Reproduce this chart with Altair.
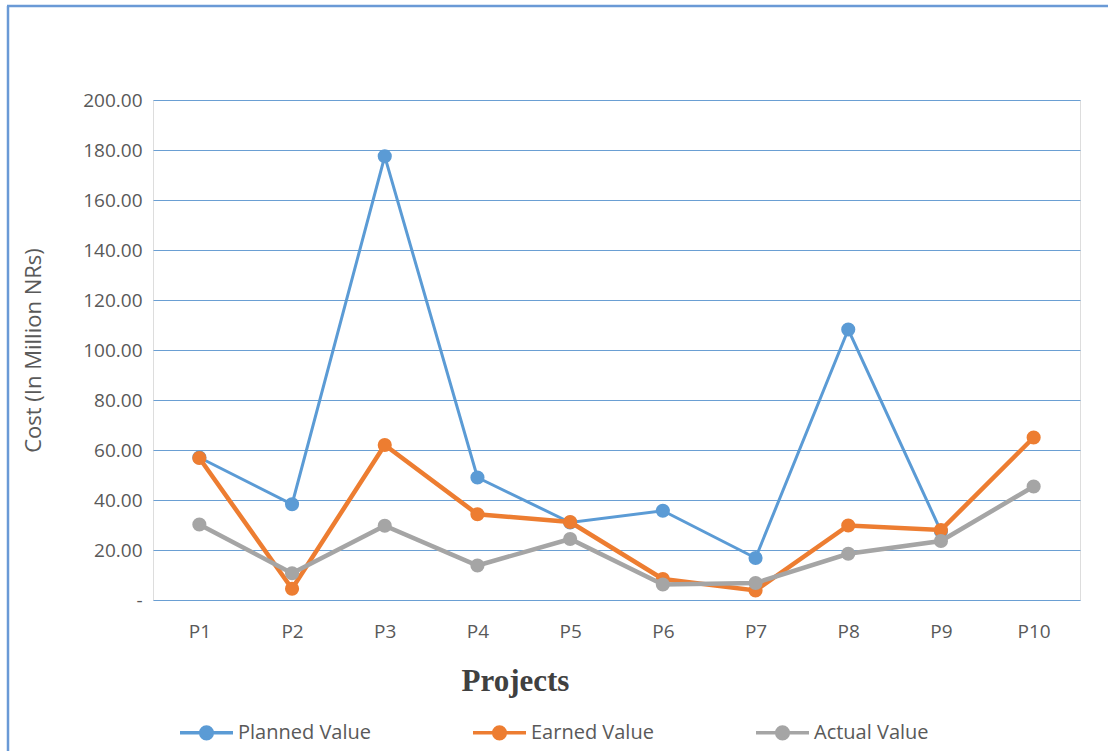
import altair as alt
import pandas as pd

projects = ["P1", "P2", "P3", "P4", "P5", "P6", "P7", "P8", "P9", "P10"]
planned = [57.0, 38.3, 177.5, 49.0, 31.0, 35.7, 16.8, 108.2, 27.5, None]
earned = [56.8, 4.5, 62.0, 34.3, 31.2, 8.4, 3.8, 29.8, 28.0, 65.0]
actual = [30.2, 10.7, 29.7, 13.8, 24.4, 6.2, 6.8, 18.5, 23.6, 45.4]

series_names = ["Planned Value", "Earned Value", "Actual Value"]
series_colors = ["#5b9bd5", "#ed7d31", "#a5a5a5"]
series_widths = [3, 4.5, 4.5]

rows = []
for name, vals in zip(series_names, [planned, earned, actual]):
    for p, v in zip(projects, vals):
        if v is not None:
            rows.append({"Project": p, "Series": name, "Cost": v})
df = pd.DataFrame(rows)

FONT = "Open Sans"
TXT = "#595959"

x_enc = alt.X(
    "Project:N",
    sort=projects,
    scale=alt.Scale(type="point", padding=0.5),
    axis=alt.Axis(
        title="Projects",
        titleFont="Liberation Serif",
        titleFontSize=31,
        titleFontWeight="bold",
        titleColor="#404040",
        titleX=362,
        titleY=90,
        titleAlign="center",
        titleBaseline="alphabetic",
        labelFont=FONT,
        labelFontSize=19,
        labelColor=TXT,
        labelPadding=22,
        labelAngle=0,
        ticks=False,
        domain=False,
        grid=False,
    ),
)

y_enc = alt.Y(
    "Cost:Q",
    scale=alt.Scale(domain=[0, 200], nice=False),
    axis=alt.Axis(
        title="Cost (In Million NRs)",
        titleFont=FONT,
        titleFontSize=22,
        titleFontWeight="normal",
        titleColor=TXT,
        titleAngle=270,
        titleX=-120,
        titleY=250,
        titleAlign="center",
        titleBaseline="middle",
        values=list(range(0, 201, 20)),
        labelExpr="datum.value == 0 ? '-' : format(datum.value, '.2f')",
        labelFont=FONT,
        labelFontSize=19,
        labelColor=TXT,
        labelPadding=11,
        ticks=False,
        domain=False,
        grid=True,
        gridColor="#6a9fd3",
        gridWidth=1,
    ),
)

legend_path = "M-1,0H1M-0.22,0A0.22,0.22,0,1,1,0.22,0A0.22,0.22,0,1,1,-0.22,0"

legend = alt.Legend(
    title=None,
    orient="none",
    legendX=25,
    legendY=604,
    direction="horizontal",
    columnPadding=95,
    symbolType=legend_path,
    symbolSize=2809,
    symbolStrokeWidth=3.5,
    symbolOpacity=1,
    labelFont=FONT,
    labelFontSize=20,
    labelColor=TXT,
    labelOffset=3,
    values=series_names,
)

color = alt.Color(
    "Series:N",
    scale=alt.Scale(domain=series_names, range=series_colors),
    legend=legend,
)

layers = []
for name, col, w in zip(series_names, series_colors, series_widths):
    base = alt.Chart(df).transform_filter(alt.datum.Series == name)
    line = base.mark_line(strokeWidth=w).encode(x=x_enc, y=y_enc, color=color)
    pts = base.mark_point(filled=True, size=200, opacity=1).encode(x=x_enc, y=y_enc, color=color)
    layers += [line, pts]

frame_data = alt.Data(values=[{"k": 1}])
frame_left = alt.Chart(frame_data).mark_rule(color="#6a9ad6", strokeWidth=2.5).encode(
    x=alt.value(-145), y=alt.value(-94), y2=alt.value(660)
)
frame_top = alt.Chart(frame_data).mark_rule(color="#6a9ad6", strokeWidth=2.5).encode(
    x=alt.value(-146), x2=alt.value(960), y=alt.value(-94)
)

chart = alt.layer(*layers, frame_left, frame_top).properties(
    width=927,
    height=500,
    autosize=alt.AutoSizeParams(type="none"),
    padding={"left": 153, "top": 100, "right": 28, "bottom": 151},
).configure_view(
    stroke="#d9d9d9", strokeWidth=1.5
).configure(background="white")

chart.save("out.html", embed_options={"renderer": "svg", "actions": False})
